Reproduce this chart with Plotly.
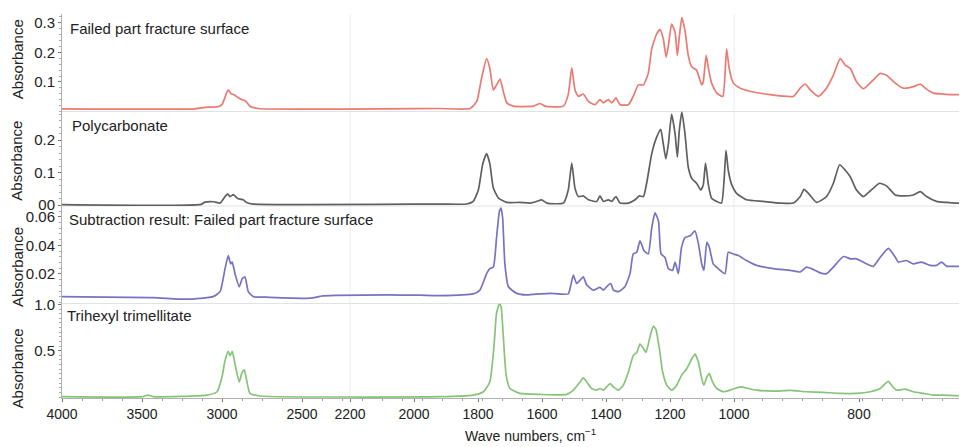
import numpy as np
import plotly.graph_objects as go

# ---------------- data (wavenumber cm^-1, absorbance) ----------------
fail_wn = [4000, 3169, 3106, 3025, 3000, 2962, 2944, 2925, 2900, 2875, 2856, 2825, 2775, 1919,
           1825, 1804, 1789, 1773, 1763, 1752, 1742, 1731, 1721, 1710, 1690, 1627, 1606, 1591,
           1533, 1518, 1507, 1497, 1486, 1471, 1455, 1434, 1419, 1408, 1393, 1382, 1369, 1356,
           1330, 1315, 1299, 1283, 1268, 1257, 1242, 1231, 1221, 1212, 1205, 1195, 1184, 1177,
           1171, 1163, 1153, 1143, 1132, 1117, 1101, 1096, 1087, 1080, 1070, 1054, 1035, 1028,
           1023, 1015, 1002, 990, 969, 942, 916, 905, 894, 886, 878, 865, 852, 841, 830, 822,
           814, 804, 793, 777, 766, 756, 742, 729, 713, 702, 694, 681, 665, 649, 640]
fail_abs = [0.009, 0.009, 0.014, 0.016, 0.023, 0.073, 0.060, 0.057, 0.047, 0.040, 0.037, 0.018, 0.010, 0.010,
            0.010, 0.034, 0.112, 0.179, 0.146, 0.073, 0.090, 0.110, 0.068, 0.029, 0.018, 0.018, 0.027, 0.018,
            0.018, 0.057, 0.148, 0.073, 0.051, 0.059, 0.034, 0.023, 0.040, 0.029, 0.040, 0.029, 0.046, 0.023,
            0.023, 0.051, 0.090, 0.090, 0.129, 0.212, 0.262, 0.277, 0.246, 0.184, 0.223, 0.296, 0.268, 0.190,
            0.251, 0.318, 0.273, 0.190, 0.151, 0.140, 0.090, 0.101, 0.190, 0.146, 0.096, 0.062, 0.051, 0.129,
            0.212, 0.146, 0.096, 0.079, 0.066, 0.057, 0.051, 0.051, 0.079, 0.093, 0.073, 0.051, 0.079, 0.123,
            0.179, 0.157, 0.146, 0.101, 0.077, 0.107, 0.129, 0.123, 0.096, 0.079, 0.084, 0.093, 0.079, 0.062,
            0.059, 0.057, 0.057]

pc_wn = [4000, 3130, 3106, 3050, 3012, 2981, 2964, 2950, 2929, 2904, 2887, 2867, 2846, 2804, 1919,
         1835, 1815, 1799, 1785, 1773, 1763, 1752, 1736, 1710, 1669, 1637, 1617, 1601, 1585, 1533,
         1518, 1507, 1497, 1486, 1471, 1455, 1429, 1419, 1408, 1393, 1382, 1369, 1356, 1330, 1309,
         1296, 1283, 1273, 1257, 1242, 1229, 1221, 1213, 1205, 1195, 1184, 1177, 1171, 1163, 1153,
         1143, 1132, 1117, 1104, 1096, 1089, 1080, 1070, 1054, 1039, 1031, 1025, 1018, 1007, 996,
         980, 953, 926, 905, 894, 888, 881, 868, 852, 841, 831, 822, 814, 804, 793, 777, 767, 756,
         742, 729, 713, 702, 692, 676, 660, 646, 640]
pc_abs = [0.001, 0.002, 0.009, 0.010, 0.006, 0.026, 0.034, 0.026, 0.032, 0.021, 0.018, 0.016, 0.008, 0.003, 0.003,
          0.003, 0.011, 0.046, 0.127, 0.158, 0.127, 0.052, 0.021, 0.008, 0.008, 0.006, 0.011, 0.016, 0.006, 0.006,
          0.046, 0.129, 0.052, 0.026, 0.028, 0.016, 0.011, 0.028, 0.011, 0.016, 0.011, 0.026, 0.006, 0.006, 0.016,
          0.028, 0.026, 0.067, 0.158, 0.208, 0.233, 0.188, 0.142, 0.188, 0.279, 0.218, 0.147, 0.228, 0.287, 0.218,
          0.117, 0.082, 0.067, 0.046, 0.062, 0.129, 0.062, 0.021, 0.011, 0.006, 0.077, 0.168, 0.107, 0.062, 0.036,
          0.016, 0.011, 0.006, 0.006, 0.026, 0.048, 0.036, 0.008, 0.026, 0.067, 0.124, 0.107, 0.087, 0.046, 0.026,
          0.052, 0.067, 0.059, 0.031, 0.028, 0.031, 0.041, 0.026, 0.011, 0.008, 0.006, 0.006]

sub_wn = [4000, 3431, 3219, 3056, 3012, 2981, 2961, 2946, 2936, 2919, 2892, 2873, 2856, 2836, 2804,
          2721, 2450, 2369, 2084, 1981, 1919, 1815, 1794, 1773, 1763, 1752, 1742, 1733, 1728, 1723,
          1716, 1705, 1679, 1648, 1606, 1575, 1518, 1510, 1502, 1492, 1481, 1471, 1460, 1440, 1419,
          1408, 1393, 1385, 1377, 1361, 1341, 1325, 1315, 1304, 1294, 1289, 1281, 1268, 1257, 1247,
          1236, 1228, 1216, 1205, 1192, 1184, 1174, 1164, 1153, 1137, 1122, 1111, 1101, 1094, 1085,
          1077, 1065, 1049, 1028, 1018, 1002, 993, 980, 964, 937, 910, 894, 884, 876, 862, 852, 841,
          825, 814, 804, 788, 777, 766, 753, 742, 737, 724, 713, 700, 686, 676, 668, 660, 646, 640]
sub_abs = [0.0041, 0.0034, 0.0023, 0.0041, 0.0076, 0.0237, 0.0329, 0.0271, 0.0283, 0.0202, 0.0110, 0.0168,
           0.0179, 0.0076, 0.0041, 0.0037, 0.0030, 0.0046, 0.0053, 0.0051, 0.0048, 0.0060, 0.0087, 0.0202,
           0.0237, 0.0248, 0.0455, 0.0639, 0.0662, 0.0593, 0.0271, 0.0110, 0.0064, 0.0053, 0.0060, 0.0064,
           0.0060, 0.0122, 0.0191, 0.0133, 0.0156, 0.0179, 0.0122, 0.0087, 0.0106, 0.0087, 0.0122, 0.0133,
           0.0087, 0.0076, 0.0110, 0.0202, 0.0340, 0.0352, 0.0432, 0.0409, 0.0363, 0.0340, 0.0524, 0.0628,
           0.0570, 0.0340, 0.0317, 0.0237, 0.0225, 0.0283, 0.0202, 0.0386, 0.0455, 0.0467, 0.0501, 0.0409,
           0.0271, 0.0225, 0.0421, 0.0386, 0.0271, 0.0237, 0.0202, 0.0352, 0.0340, 0.0329, 0.0294, 0.0260,
           0.0237, 0.0225, 0.0214, 0.0248, 0.0237, 0.0207, 0.0202, 0.0248, 0.0322, 0.0306, 0.0306, 0.0271,
           0.0253, 0.0317, 0.0379, 0.0317, 0.0283, 0.0294, 0.0271, 0.0283, 0.0260, 0.0260, 0.0283, 0.0255,
           0.0253, 0.0253]

thtm_wn = [4000, 3494, 3462, 3431, 3094, 3031, 3000, 2981, 2961, 2950, 2936, 2919, 2892, 2877, 2861,
           2846, 2825, 2762, 1919, 1815, 1783, 1763, 1750, 1742, 1733, 1728, 1721, 1712, 1700, 1669,
           1606, 1523, 1502, 1481, 1471, 1460, 1445, 1429, 1419, 1408, 1398, 1387, 1377, 1361, 1346,
           1330, 1315, 1304, 1294, 1285, 1275, 1262, 1252, 1244, 1233, 1223, 1210, 1195, 1179, 1164,
           1148, 1132, 1122, 1111, 1101, 1094, 1085, 1077, 1067, 1054, 1033, 1012, 996, 988, 977, 964,
           937, 910, 884, 857, 830, 804, 782, 766, 758, 753, 748, 740, 726, 713, 697, 681, 665, 646, 640]
thtm_abs = [0.004, 0.004, 0.021, 0.004, 0.021, 0.057, 0.216, 0.394, 0.493, 0.447, 0.493, 0.358, 0.163, 0.252, 0.294,
            0.181, 0.039, 0.011, 0.004, 0.021, 0.057, 0.163, 0.553, 0.908, 1.007, 0.979, 0.660, 0.234, 0.092, 0.039,
            0.028, 0.028, 0.074, 0.163, 0.206, 0.163, 0.092, 0.074, 0.092, 0.074, 0.110, 0.145, 0.110, 0.074, 0.128,
            0.270, 0.447, 0.482, 0.571, 0.535, 0.482, 0.660, 0.766, 0.730, 0.518, 0.270, 0.128, 0.074, 0.128, 0.234,
            0.305, 0.411, 0.465, 0.376, 0.199, 0.128, 0.216, 0.252, 0.163, 0.092, 0.057, 0.074, 0.099, 0.110, 0.092,
            0.074, 0.064, 0.071, 0.057, 0.050, 0.039, 0.039, 0.057, 0.092, 0.145, 0.170, 0.128, 0.074, 0.085, 0.057,
            0.039, 0.021, 0.021, 0.014, 0.014]

tick_wn = [4000, 3500, 3000, 2500, 2200, 2000, 1800, 1600, 1400, 1200, 1000, 800]
tick_labels = [str(t) for t in tick_wn]

# ---------------- piecewise-linear wavenumber scale (FTIR scale changes at 2200 and 1000) ----
SCALE_WN = [640, 1000, 2200, 4000]
SCALE_POS = [959, 734, 350, 62]


def to_pos(wn):
    return np.interp(np.asarray(wn, dtype=float), SCALE_WN, SCALE_POS)


W, H = 965, 447
PL, PR, PT, PB = 62, 959, 8, 398  # plot area in pixels


def ypaper(py):
    return (PB - py) / (PB - PT)


def xpaper(px):
    return (px - PL) / (PR - PL)


def yrange(top, bot, ref1, ref2):
    (v1, p1), (v2, p2) = ref1, ref2
    k = (p2 - p1) / (v1 - v2)
    return [v1 + (p1 - bot) / k, v1 + (p1 - top) / k]


panels = [
    ("Failed part fracture surface", "#ea7a72", fail_wn, fail_abs, (8, 107),
     ((0.3, 17), (0.1, 77)), [0.1, 0.2, 0.3], ["0.1", "0.2", "0.3"], 0.02, (68, 23)),
    ("Polycarbonate", "#606060", pc_wn, pc_abs, (107, 203),
     ((0.2, 136), (0.0, 202)), [0.0, 0.1, 0.2], ["00", "0.1", "0.2"], 0.02, (70, 121)),
    ("Subtraction result: Failed part fracture surface", "#7772c2", sub_wn, sub_abs, (203, 302),
     ((0.06, 214), (0.02, 272)), [0.02, 0.04, 0.06], ["0.02", "0.04", "0.06"], 0.004, (67, 217)),
    ("Trihexyl trimellitate", "#86c477", thtm_wn, thtm_abs, (302, 398),
     ((1.0, 303), (0.5, 350)), [0.5, 1.0], ["0.5", "1.0"], 0.05, (65, 314)),
]

FONT = "Liberation Sans, Arial, sans-serif"
fig = go.Figure()
layout = dict(
    width=W, height=H,
    margin=dict(l=PL, r=W - PR, t=PT, b=H - PB),
    paper_bgcolor="white", plot_bgcolor="white",
    showlegend=False,
    font=dict(family=FONT, size=15, color="#222222"),
    xaxis=dict(range=[PL, PR], tickvals=list(to_pos(tick_wn)), ticktext=tick_labels,
               showline=True, linecolor="#b0b0b0", linewidth=1, ticks="outside", ticklen=3,
               tickcolor="#777777", showgrid=False, zeroline=False, anchor="y",
               tickfont=dict(size=14, color="#222222"),
               minor=dict(ticks="outside", ticklen=2, tickcolor="#999999", dtick=20, tick0=PL)),
    annotations=[], shapes=[],
)

axis_names = ["y4", "y3", "y2", "y"]
for (name, color, wn, ab, (top, bot), refs, tv, tt, mdt, (lx, ly)), ax in zip(panels, axis_names):
    key = "yaxis" if ax == "y" else "yaxis" + ax[1:]
    layout[key] = dict(
        domain=[ypaper(bot), ypaper(top)], range=yrange(top, bot, *refs),
        tickvals=tv, ticktext=tt, showline=True, linecolor="#b0b0b0", linewidth=1,
        ticks="outside", ticklen=3, tickcolor="#777777", showgrid=False, zeroline=False,
        anchor="x", tickfont=dict(size=15, color="#222222"),
        minor=dict(ticks="outside", ticklen=2, tickcolor="#aaaaaa", dtick=mdt, tick0=0),
    )
    fig.add_trace(go.Scatter(x=to_pos(wn), y=ab, mode="lines", yaxis=ax, xaxis="x",
                             line=dict(color=color, width=1.7, shape="spline", smoothing=0.5),
                             customdata=wn,
                             hovertemplate="%{customdata} cm⁻¹: %{y}<extra>" + name + "</extra>"))
    layout["annotations"].append(dict(text=name, x=xpaper(lx), y=ypaper(ly), xref="paper", yref="paper",
                                      xanchor="left", yanchor="middle", showarrow=False,
                                      font=dict(size=15, color="#222222")))
    if top > PT:
        layout["shapes"].append(dict(type="line", xref="paper", yref="paper", x0=0, x1=1,
                                     y0=ypaper(top), y1=ypaper(top),
                                     line=dict(color="#e2e2e2", width=1), layer="below"))

for py in [54, 157, 265, 368]:
    layout["annotations"].append(dict(text="Absorbance", x=xpaper(17), y=ypaper(py), xref="paper",
                                      yref="paper", textangle=-90, showarrow=False,
                                      xanchor="center", yanchor="middle",
                                      font=dict(size=15, color="#222222")))

layout["annotations"].append(dict(text="Wave numbers, cm<sup>−1</sup>", x=xpaper(530), y=ypaper(436),
                                  xref="paper", yref="paper", showarrow=False, xanchor="center",
                                  yanchor="middle", font=dict(size=14, color="#222222")))

for w in [2200, 1000]:
    layout["shapes"].append(dict(type="line", xref="x", yref="paper", x0=float(to_pos(w)), x1=float(to_pos(w)),
                                 y0=0, y1=1, line=dict(color="#ececec", width=1), layer="below"))

fig.update_layout(**layout)
fig.write_html("out.html", config={"displayModeBar": False},
               post_script="document.body.style.margin='0';document.body.style.padding='0';")
